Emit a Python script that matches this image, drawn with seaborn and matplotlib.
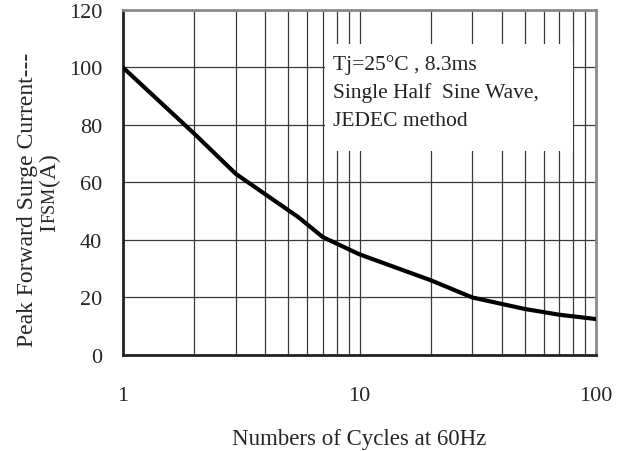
import numpy as np
import pandas as pd
import matplotlib
matplotlib.use("Agg")
import matplotlib.pyplot as plt
import seaborn as sns
from matplotlib.patches import Rectangle
from matplotlib.ticker import FixedLocator, NullFormatter

# surge current vs number of cycles
cycles = [1, 2, 3, 5.5, 7, 10, 20, 30, 50, 70, 100]
ifsm = [100, 77, 63, 48, 41, 35, 26, 20, 16, 14, 12.5]

x_ticks = [1, 10, 100]
x_tick_labels = ['1', '10', '100']
y_ticks = [0, 20, 40, 60, 80, 100, 120]
note_lines = ['Tj=25°C , 8.3ms', 'Single Half  Sine Wave,', 'JEDEC method']

sns.set_style('white')
plt.rcParams['font.family'] = ['Liberation Serif', 'DejaVu Serif']

W, H = 623, 452
df = pd.DataFrame({'cycles': cycles, 'ifsm': ifsm})

fig = plt.figure(figsize=(W / 100, H / 100), dpi=100)
ax = fig.add_axes([0.1974, 0.2124, 0.7593, 0.7633])

sns.lineplot(data=df, x='cycles', y='ifsm', color='black', linewidth=3.0,
             ax=ax, zorder=4)

ax.set_xscale('log')
ax.set_xlim(1, 100)
ax.set_ylim(0, 120)

minor = [m * d for d in (1, 10) for m in range(2, 10)]
ax.xaxis.set_major_locator(FixedLocator(x_ticks))
ax.xaxis.set_minor_locator(FixedLocator(minor))
ax.xaxis.set_minor_formatter(NullFormatter())
ax.set_xticklabels(x_tick_labels)
ax.set_yticks(y_ticks)

ax.grid(True, which='both', axis='x', color='#3a3a3a', linewidth=0.9)
ax.grid(True, which='major', axis='y', color='#3a3a3a', linewidth=0.9)
ax.set_axisbelow(True)

ax.tick_params(axis='both', which='both', length=0, labelsize=16)
ax.tick_params(axis='x', pad=22)
ax.tick_params(axis='y', pad=15)

for side in ['left', 'bottom']:
    ax.spines[side].set_color('#222222')
    ax.spines[side].set_linewidth(2)
for side in ['top', 'right']:
    ax.spines[side].set_color('#8a8a8a')
    ax.spines[side].set_linewidth(2)

# white box behind the test conditions
ax.add_patch(Rectangle((0.427, 0.591), 0.524, 0.31, transform=ax.transAxes,
                       facecolor='white', edgecolor='none', zorder=3))
for i, line in enumerate(note_lines):
    ax.text(0.444, 0.83 - i * 0.081, line, transform=ax.transAxes,
            fontsize=15.5, color='#222222', va='baseline', ha='left', zorder=5)

ax.set_xlabel('Numbers of Cycles at 60Hz', fontsize=16.5, labelpad=17)
ax.set_ylabel('')  # drawn by hand below

# two-line y label, placed like the original
fig.text(33 / W, 1 - 200 / H, 'Peak Forward Surge Current---',
         rotation=90, fontsize=17, ha='center', va='baseline',
         rotation_mode='anchor')

# second line: I + small FSM + (A), laid out piece by piece
renderer = fig.canvas.get_renderer()
y_pos = 232
for piece, size in [('I', 17), ('FSM', 13), ('(A)', 17)]:
    t = fig.text(55 / W, 1 - y_pos / H, piece, rotation=90, fontsize=size,
                 ha='left', va='baseline', rotation_mode='anchor')
    y_pos -= t.get_window_extent(renderer).height + 1

plt.savefig('out.png', dpi=100)
